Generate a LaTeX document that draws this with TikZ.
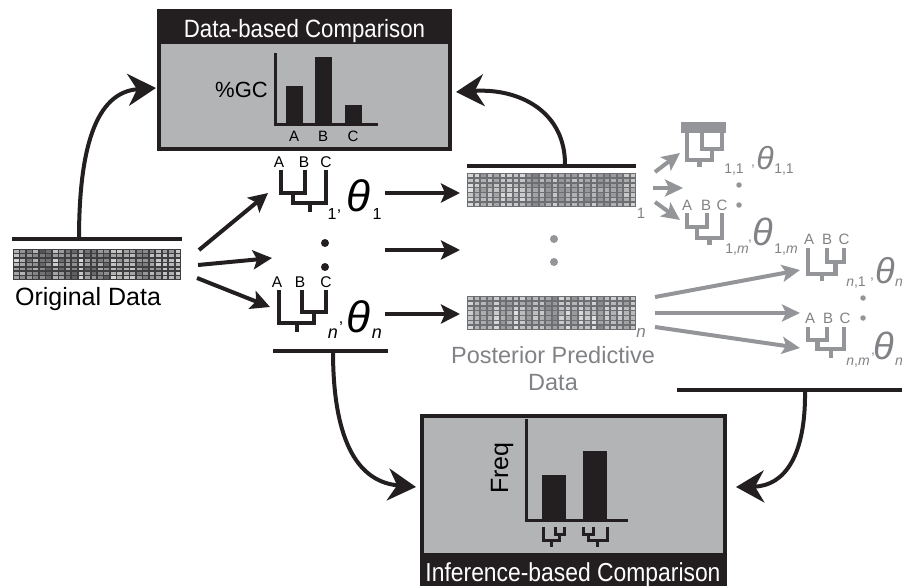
\documentclass[tikz,border=0pt]{standalone}
\usepackage{fontspec}
\setmainfont{Liberation Sans}
\usetikzlibrary{arrows.meta}
\definecolor{blk}{HTML}{231F20}
\definecolor{boxg}{HTML}{B3B4B6}
\definecolor{gtr}{HTML}{939598}
\definecolor{gtx}{HTML}{808285}
\definecolor{mdark}{HTML}{3E3E40}
\definecolor{mgray}{HTML}{6D6E71}
\newcommand\fs[1]{\fontsize{#1}{#1}\selectfont}
% ((A,B),C) tree: style, A, B, C, top, j1, j2, root
\newcommand\trAB[8]{%
  \pgfmathsetmacro\mAB{(#2+#3)/2}%
  \pgfmathsetmacro\rX{(\mAB+#4)/2}%
  \draw[#1] (#2,#5)--(#2,#6)--(#3,#6)--(#3,#5);
  \draw[#1] (\mAB,#6)--(\mAB,#7)--(#4,#7)--(#4,#5);
  \draw[#1] (\rX,#7)--(\rX,#8);
}
% (A,(B,C)) tree
\newcommand\trBC[8]{%
  \pgfmathsetmacro\mBC{(#3+#4)/2}%
  \pgfmathsetmacro\rX{(\mBC+#2)/2}%
  \draw[#1] (#3,#5)--(#3,#6)--(#4,#6)--(#4,#5);
  \draw[#1] (#2,#5)--(#2,#7)--(\mBC,#7)--(\mBC,#6);
  \draw[#1] (\rX,#7)--(\rX,#8);
}
% data matrix: x0,y0,w,h,base,min,span
\newcommand\dmat[7]{%
  \fill[#5] (#1,#2) rectangle ++(#3,#4);
  \pgfmathsetmacro\cw{#3/26}%
  \pgfmathsetmacro\ch{#4/7}%
  \foreach \i in {0,...,25}{%
    \pgfmathsetmacro\cb{rnd}%
    \foreach \j in {0,...,6}{%
      \pgfmathsetmacro\g{int(#6+#7*(0.6*\cb+0.4*rnd))}%
      \fill[white!\g!#5] ({#1+\i*\cw+1},{#2+\j*\ch+0.8}) rectangle ++({\cw-1.7},{\ch-1.5});
    }%
  }%
}
\begin{document}
\begin{tikzpicture}[x=1pt,y=-1pt,
  txt/.style={inner sep=0pt,anchor=base},
  bline/.style={draw=blk,line width=4pt},
  btree/.style={draw=blk,line width=4pt,line join=miter},
  gtree/.style={draw=gtr,line width=4.5pt,line join=miter},
  stree/.style={draw=blk,line width=3pt,line join=miter},
  bigarr/.style={draw=blk,line width=4pt,-{Stealth[length=28pt,width=32pt,inset=9pt]}},
  barr/.style={draw=blk,line width=4pt,-{Stealth[length=19pt,width=19pt,inset=4pt]}},
  garr/.style={draw=gtr,line width=4pt,-{Stealth[length=18pt,width=17pt,inset=4pt]}},
  bdot/.style={fill=blk,draw=none,circle,minimum size=8pt,inner sep=0pt},
  gdot/.style={fill=gtr,draw=none,circle,minimum size=8pt,inner sep=0pt},
  sdot/.style={fill=gtr,draw=none,circle,minimum size=5.5pt,inner sep=0pt}
]
\useasboundingbox (0,0) rectangle (902,586);
\pgfmathsetseed{17}

% ---------- Data-based comparison box ----------
\fill[blk] (157,9) rectangle (452,151);
\fill[boxg] (161,44) rectangle (448,147);
\node[txt,text=white] (tdbc) at (304.5,38) {\fs{25}\scalebox{0.89}[1]{Data-based Comparison}};
\draw[blk,line width=3pt] (275,53) -- (275,124) -- (378,124);
\fill[blk] (286,86) rectangle (303,124);
\fill[blk] (315,57) rectangle (332,124);
\fill[blk] (345,105) rectangle (362,124);
\node[txt,anchor=base east] (gc) at (268,97) {\fs{22}\%GC};
\node[txt] (la) at (294,141) {\fs{15}A};
\node[txt] (lb) at (323,141) {\fs{15}B};
\node[txt] (lc) at (353,141) {\fs{15}C};

% ---------- Inference-based comparison box ----------
\fill[blk] (420,414) rectangle (727,590);
\fill[boxg] (424,418) rectangle (723,553);
\node[txt,text=white] (tibc) at (573,581) {\fs{26}\scalebox{0.88}[1]{Inference-based Comparison}};
\draw[blk,line width=3pt] (526,419) -- (526,520) -- (628,520);
\fill[blk] (542,475) rectangle (566,520);
\fill[blk] (583,451) rectangle (607,520);
\node[inner sep=0pt,rotate=90] (freq) at (502,468) {\fs{25}Freq};
\trBC{stree}{543}{555}{564}{527}{534}{540}{547}
\trAB{stree}{583}{593}{607}{527}{534}{540}{547}

% ---------- Original data ----------
\draw[bline] (12,239) -- (182,239);
\dmat{13}{249}{168}{31}{mdark}{12}{75}
\node[txt] (orig) at (88,305) {\fs{25}Original Data};

% ---------- Trees 1 and n ----------
\node[txt] at (279,167) {\fs{15.5}A};
\node[txt] at (304,167) {\fs{15.5}B};
\node[txt] at (326,167) {\fs{15.5}C};
\trAB{btree}{281}{305}{326}{170}{193}{203}{212}
\node[txt] (s1a) at (332,219) {\fs{16}1};
\node[txt] (c1) at (339,211) {\fs{16},};
\node[inner sep=0pt] (th1) at (358,196) {\fs{44}\itshape θ};
\node[txt] (s1b) at (377,219) {\fs{16}1};

\node[bdot] (bd1) at (325,243) {};
\node[bdot] (bd2) at (325,267) {};

\node[txt] at (277,287) {\fs{15.5}A};
\node[txt] at (300,287) {\fs{15.5}B};
\node[txt] at (326,287) {\fs{15.5}C};
\trBC{btree}{279}{302}{326}{290}{312}{323}{332}
\node[txt] (sna) at (333,338) {\fs{18}\itshape n};
\node[txt] (cn) at (341,323) {\fs{16},};
\node[inner sep=0pt] (thn) at (358,317) {\fs{44}\itshape θ};
\node[txt] (snb) at (377,338) {\fs{18}\itshape n};
\draw[bline] (273,351) -- (388,351);

% ---------- Posterior predictive data ----------
\draw[bline] (467,166) -- (636,166);
\dmat{467}{173}{169}{34}{mgray}{10}{72}
\dmat{467}{296}{169}{34}{mgray}{10}{72}
\node[txt,text=gtx] (pp1) at (641,218) {\fs{15}1};
\node[txt,text=gtx] (ppn) at (641,337) {\fs{17}\itshape n};
\node[gdot] (gd1) at (554,239) {};
\node[gdot] (gd2) at (554,262) {};
\node[txt,text=gtx] (ppt1) at (553,363) {\fs{23.5}Posterior Predictive};
\node[txt,text=gtx] (ppt2) at (553,390) {\fs{23.5}Data};

% ---------- Gray trees ----------
\fill[gtr] (681,122) rectangle (726,133);
\trBC{gtree}{687}{702}{722}{133}{149}{160}{167}
\node[txt,text=gtx] at (734,173) {\fs{14}1,1};
\node[txt,text=gtx] at (753,166) {\fs{14},};
\node[inner sep=0pt,text=gtx] (th11) at (765,158) {\fs{32}\itshape θ};
\node[txt,text=gtx] at (784,173) {\fs{14}1,1};
\node[sdot] at (739,185) {};
\node[sdot] at (739,205) {};

\node[txt,text=gtx] at (687,210) {\fs{15}A};
\node[txt,text=gtx] at (706,210) {\fs{15}B};
\node[txt,text=gtx] at (722,210) {\fs{15}C};
\trAB{gtree}{687}{707}{722}{213}{227}{238}{245}
\node[txt,text=gtx] at (737,253) {\fs{14}1,\textit{m}};
\node[txt,text=gtx] at (750,241) {\fs{14},};
\node[inner sep=0pt,text=gtx] (th1m) at (763,232) {\fs{38}\itshape θ};
\node[txt,text=gtx] at (786,253) {\fs{14}1,\textit{m}};

\node[txt,text=gtx] at (809,244) {\fs{15}A};
\node[txt,text=gtx] at (827,244) {\fs{15}B};
\node[txt,text=gtx] at (844,244) {\fs{15}C};
\trBC{gtree}{808}{827}{844}{248}{262}{274}{281}
\node[txt,text=gtx] at (856,286) {\fs{14}\textit{n},1};
\node[txt,text=gtx] at (872,279) {\fs{14},};
\node[inner sep=0pt,text=gtx] (thn1) at (885,271) {\fs{36}\itshape θ};
\node[txt,text=gtx,anchor=base west] at (895,286) {\fs{14}\textit{n},1};
\node[sdot] at (863,298) {};
\node[sdot] at (863,318) {};

\node[txt,text=gtx] at (810,323) {\fs{15}A};
\node[txt,text=gtx] at (828,323) {\fs{15}B};
\node[txt,text=gtx] at (845,323) {\fs{15}C};
\trAB{gtree}{808}{827}{844}{327}{340}{349}{358}
\node[txt,text=gtx] at (858,365) {\fs{14}\textit{n},\textit{m}};
\node[txt,text=gtx] at (873,354) {\fs{14},};
\node[inner sep=0pt,text=gtx] (thnm) at (884,346) {\fs{38}\itshape θ};
\node[txt,text=gtx,anchor=base west] at (895,365) {\fs{14}\textit{n},\textit{m}};

\draw[bline] (677,390) -- (902,390);

% ---------- connector end points ----------
\coordinate (o1) at (199,250);  \coordinate (t1in) at (268,193);
\coordinate (o2) at (198,265);  \coordinate (tmin) at (272,258);
\coordinate (o3) at (197,278);  \coordinate (tnin) at (270,307);
\coordinate (a1s) at (385,193); \coordinate (p1in) at (460,193);
\coordinate (a2s) at (385,250); \coordinate (pmin) at (460,250);
\coordinate (a3s) at (385,314); \coordinate (pnin) at (460,314);
\coordinate (g1s) at (655,172); \coordinate (g11) at (680,153);
\coordinate (g2s) at (653,188); \coordinate (g1d) at (683,188);
\coordinate (g3s) at (655,202); \coordinate (g1m) at (680,220);
\coordinate (h1s) at (655,297); \coordinate (gn1) at (800,270);
\coordinate (h2s) at (655,313); \coordinate (gnd) at (800,313);
\coordinate (h3s) at (655,327); \coordinate (gnm) at (800,348);
\coordinate (ostem) at (79,239);  \coordinate (dbl) at (156,88);
\coordinate (pstem) at (565,166); \coordinate (dbr) at (456,92);
\coordinate (tstem) at (333,351); \coordinate (ibl) at (416,487);
\coordinate (rstem) at (805,390); \coordinate (ibr) at (736,487);

\draw[barr] (o1) -- (t1in);
\draw[barr] (o2) -- (tmin);
\draw[barr] (o3) -- (tnin);
\draw[barr] (a1s) -- (p1in);
\draw[barr] (a2s) -- (pmin);
\draw[barr] (a3s) -- (pnin);
\draw[garr] (g1s) -- (g11);
\draw[garr] (g2s) -- (g1d);
\draw[garr] (g3s) -- (g1m);
\draw[garr] (h1s) -- (gn1);
\draw[garr] (h2s) -- (gnd);
\draw[garr] (h3s) -- (gnm);

\draw[bigarr] (ostem) .. controls (79,150) and (95,92) .. (dbl);
\draw[bigarr] (pstem) .. controls (566,112) and (520,88) .. (dbr);
\draw[bigarr] (tstem) .. controls (333,445) and (360,482) .. (ibl);
\draw[bigarr] (rstem) .. controls (806,455) and (785,486) .. (ibr);
\end{tikzpicture}
\end{document}
